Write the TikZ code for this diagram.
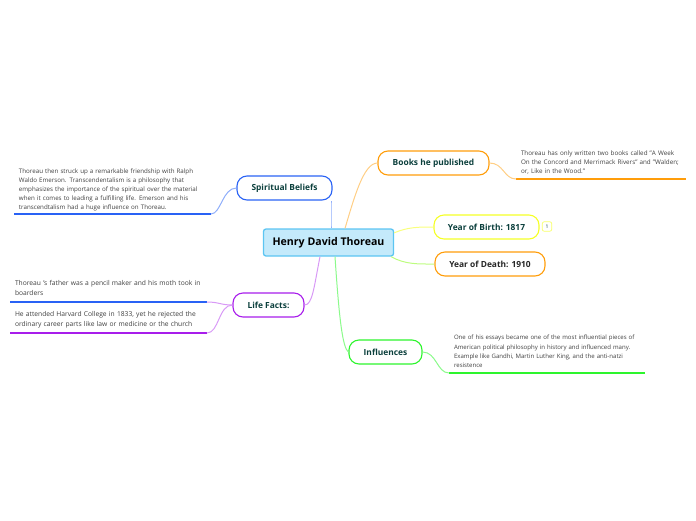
\documentclass[tikz,border=0pt]{standalone}
\usepackage{fontspec}
\setmainfont{Open Sans}
\usetikzlibrary{calc}
\definecolor{topicText}{HTML}{0B3F3C}
\definecolor{noteText}{HTML}{404040}
\definecolor{rootFill}{HTML}{C4EAFB}
\definecolor{rootEdge}{HTML}{5CC5F2}
\definecolor{blueEdge}{HTML}{2962F5}
\definecolor{blueLink}{HTML}{8FAEFA}
\definecolor{purpleEdge}{HTML}{A81DEB}
\definecolor{orangeEdge}{HTML}{FF9D0A}
\definecolor{yellowEdge}{HTML}{F5FF26}
\definecolor{greenEdge}{HTML}{2DF52D}
\tikzset{
  root/.style={draw=rootEdge, fill=rootFill, line width=1.3pt, rounded corners=2.5pt, inner sep=0pt,
    minimum width=130pt, minimum height=27pt, font=\fontsize{10.6}{13}\selectfont\bfseries},
  topic/.style={draw=#1, line width=1.1pt, rounded corners=10pt, inner sep=0pt, minimum height=24pt,
    text=topicText, font=\fontsize{8.4}{10}\selectfont\bfseries},
  note/.style={inner sep=0pt, outer sep=0pt, anchor=south west, align=left, text=noteText},
  link/.style={draw=#1, line width=1pt},
  rule/.style={draw=#1, line width=1.6pt}
}
\begin{document}
\begin{tikzpicture}[x=1pt,y=-1pt]
  \useasboundingbox (0,0) rectangle (696,520);

  \node[root] (thoreau) at (328.5,242.5) {Henry David Thoreau};

  \node[topic=blueEdge, minimum width=95pt] (beliefs) at (284.5,188) {Spiritual Beliefs};
  \node[topic=purpleEdge, minimum width=71pt] (facts) at (268.5,305) {Life Facts:};
  \node[topic=orangeEdge, minimum width=111pt] (books) at (433.5,163) {Books he published};
  \node[topic=yellowEdge, minimum width=105pt] (birth) at (486.5,227) {Year of Birth: 1817};
  \node[topic=orangeEdge, minimum width=110pt, text=black!85] (death) at (490,264) {Year of Death: 1910};
  \node[topic=greenEdge, minimum width=73pt] (influences) at (385.5,352) {Influences};
  \node[draw=yellowEdge!70, line width=0.7pt, rounded corners=2pt, minimum width=9.5pt, minimum height=9.5pt,
    inner sep=0pt, text=topicText, font=\fontsize{5}{5}\selectfont] (marker) at (547,226.5) {1};

  % notes sit on their rules
  \node[note, font=\fontsize{6.2}{9}\selectfont, minimum width=197pt, text width=197pt] (beliefsnote) at (14,214) {\hspace*{5pt}Thoreau then struck up a remarkable friendship with Ralph\\
    \hspace*{5pt}Waldo Emerson. Transcendentalism is a philosophy that\\
    \hspace*{5pt}emphasizes the importance of the spiritual over the material\\
    \hspace*{5pt}when it comes to leading a fulfilling life. Emerson and his\\
    \hspace*{5pt}transcendtalism had a huge influence on Thoreau.\\[-4pt]\mbox{}};
  \node[note, font=\fontsize{6.7}{10}\selectfont, minimum width=197pt, text width=197pt] (fathernote) at (10,302) {\hspace*{5pt}Thoreau 's father was a pencil maker and his moth took in\\
    \hspace*{5pt}boarders\\[-3.5pt]\mbox{}};
  \node[note, font=\fontsize{6.7}{10}\selectfont, minimum width=197pt, text width=197pt] (collegenote) at (10,333) {\hspace*{5pt}He attended Harvard College in 1833, yet he rejected the\\
    \hspace*{5pt}ordinary career parts like law or medicine or the church\\[-3.5pt]\mbox{}};
  \node[note, font=\fontsize{6.3}{9}\selectfont, minimum width=170pt, text width=170pt] (booksnote) at (516,179) {\hspace*{5pt}Thoreau has only written two books called "A Week\\
    \hspace*{5pt}On the Concord and Merrimack Rivers" and "Walden;\\
    \hspace*{5pt}or, Like in the Wood."\\[-3.5pt]\mbox{}};
  \node[note, font=\fontsize{6.05}{9.3}\selectfont, minimum width=196pt, text width=196pt] (influencesnote) at (449,373) {\hspace*{5pt}One of his essays became one of the most influential pieces of\\
    \hspace*{5pt}American political philosophy in history and influenced many.\\
    \hspace*{5pt}Example like Gandhi, Martin Luther King, and the anti-natzi\\
    \hspace*{5pt}resistence\\[-4pt]\mbox{}};

  \draw[rule=blueEdge] (beliefsnote.south west) -- (beliefsnote.south east);
  \draw[rule=blueEdge] (fathernote.south west) -- (fathernote.south east);
  \draw[rule=purpleEdge] (collegenote.south west) -- (collegenote.south east);
  \draw[rule=orangeEdge] (booksnote.south west) -- (booksnote.south east);
  \draw[rule=greenEdge] (influencesnote.south west) -- (influencesnote.south east);

  % root to topics
  \draw[link=blueLink] ([xshift=2.5pt]thoreau.north) .. controls +(0,-10) and +(0,10) .. ([xshift=46.5pt]beliefs.south);
  \draw[link=purpleEdge!45] ([xshift=-8.5pt]thoreau.south) .. controls +(-6,30) and +(8,0) .. (facts.east);
  \draw[link=orangeEdge!50] ([xshift=16.5pt]thoreau.north) .. controls +(9,-30) and +(-14,0) .. (books.west);
  \draw[link=yellowEdge!60] ([yshift=-4.5pt]thoreau.north east) .. controls +(14,-6) and +(-14,0) .. (birth.west);
  \draw[link=greenEdge!50!yellowEdge!60] ([xshift=-3pt]thoreau.south east) .. controls +(14,8) and +(-16,0) .. (death.west);
  \draw[link=greenEdge!55] ([xshift=6.5pt]thoreau.south) .. controls +(4,60) and +(-6,-4) .. (influences.west);

  % topics to notes
  \draw[link=blueLink] (beliefs.west) .. controls +(-14,0) and +(10,0) .. (beliefsnote.south east);
  \draw[link=purpleEdge!45] (facts.west) .. controls +(-12,0) and +(12,0) .. (fathernote.south east);
  \draw[link=purpleEdge!45] (facts.west) .. controls +(-14,0) and +(12,0) .. (collegenote.south east);
  \draw[link=orangeEdge!50] (books.east) .. controls +(14,0) and +(-12,0) .. (booksnote.south west);
  \draw[link=greenEdge!55] (influences.east) .. controls +(14,0) and +(-12,0) .. (influencesnote.south west);
\end{tikzpicture}
\end{document}
